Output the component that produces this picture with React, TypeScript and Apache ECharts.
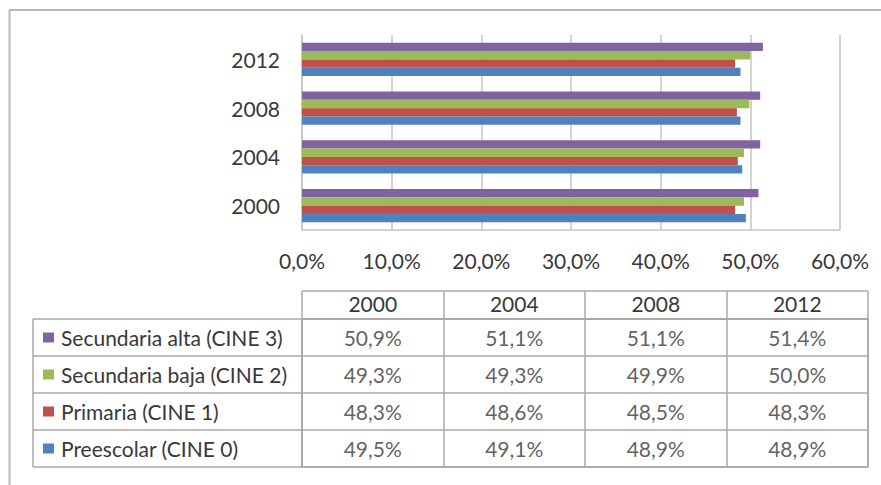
import React, { useEffect, useRef } from "react";
import * as echarts from "echarts";

const years = ["2000", "2004", "2008", "2012"];
const seriesNames = [
  "Preescolar (CINE 0)",
  "Primaria (CINE 1)",
  "Secundaria baja (CINE 2)",
  "Secundaria alta (CINE 3)",
];
const preescolar = [49.5, 49.1, 48.9, 48.9];
const primaria = [48.3, 48.6, 48.5, 48.3];
const secundariaBaja = [49.3, 49.3, 49.9, 50.0];
const secundariaAlta = [50.9, 51.1, 51.1, 51.4];
const seriesValues = [preescolar, primaria, secundariaBaja, secundariaAlta];
const colors = ["#4F81BD", "#C0504D", "#9BBB59", "#8064A2"];

const FONT = "Lato";
const FS = 21;
const TEXT = "#383838";
const GRID_C = "#c4c4c4";
const TABLE_C = "#a8a8a8";

const fmt = (v: number) => v.toFixed(1).replace(".", ",") + "%";

export default function App() {
  const ref = useRef<HTMLDivElement>(null);
  useEffect(() => {
    if (!ref.current) return;
    const chart = echarts.init(ref.current, undefined, { renderer: "svg" });

    const rich: any = {
      t: { fontFamily: FONT, fontSize: FS, color: TEXT },
      g: { width: 7 },
    };
    colors.forEach((c, i) => {
      rich["sq" + i] = { width: 11, height: 10, backgroundColor: c };
    });

    const tableData: any[] = [];
    seriesValues.forEach((vals, s) => {
      vals.forEach((v, i) => tableData.push([i, s, v]));
    });

    // ECharts stacks horizontal bar series top-down, so declare them in reverse
    const barOrder = [3, 2, 1, 0];

    chart.setOption({
      animation: false,
      backgroundColor: "#ffffff",
      textStyle: { fontFamily: FONT, color: TEXT },
      grid: [
        { left: 302, top: 35, width: 538, height: 195, containLabel: false },
        {
          left: 302,
          top: 319,
          width: 566,
          height: 148,
          show: true,
          borderColor: TABLE_C,
          borderWidth: 1.5,
          backgroundColor: "transparent",
        },
      ],
      xAxis: [
        {
          type: "value",
          gridIndex: 0,
          min: 0,
          max: 60,
          interval: 10,
          axisLine: { show: true, lineStyle: { color: GRID_C, width: 1.5 } },
          axisTick: { show: false },
          splitLine: { show: true, lineStyle: { color: GRID_C, width: 1.5 } },
          axisLabel: {
            formatter: (v: number) => fmt(v),
            fontFamily: FONT,
            fontSize: FS,
            color: TEXT,
            margin: 20,
          },
        },
        {
          type: "category",
          gridIndex: 1,
          position: "top",
          data: years,
          axisLine: { show: true, lineStyle: { color: TABLE_C, width: 1.5 } },
          axisTick: {
            show: true,
            length: 28,
            lineStyle: { color: TABLE_C, width: 1.5 },
          },
          splitLine: { show: true, lineStyle: { color: TABLE_C, width: 1.5 } },
          axisLabel: {
            fontFamily: FONT,
            fontSize: FS,
            color: TEXT,
            margin: 5,
          },
        },
      ],
      yAxis: [
        {
          type: "category",
          gridIndex: 0,
          data: years,
          axisLine: { show: true, lineStyle: { color: GRID_C, width: 1.5 } },
          axisTick: { show: false },
          axisLabel: {
            fontFamily: FONT,
            fontSize: FS,
            color: TEXT,
            margin: 22,
          },
        },
        {
          type: "category",
          gridIndex: 1,
          data: seriesNames,
          axisLine: { show: true, lineStyle: { color: TABLE_C, width: 1.5 } },
          axisTick: {
            show: true,
            length: 269,
            lineStyle: { color: TABLE_C, width: 1.5 },
          },
          splitLine: { show: true, lineStyle: { color: TABLE_C, width: 1.5 } },
          axisLabel: {
            align: "left",
            margin: 259,
            formatter: (v: string, i: number) => `{sq${i}|}{g|}{t|${v}}`,
            rich,
          },
        },
      ],
      series: [
        ...barOrder.map((s) => ({
          type: "bar",
          name: seriesNames[s],
          xAxisIndex: 0,
          yAxisIndex: 0,
          data: seriesValues[s],
          barGap: "0%",
          barCategoryGap: "32%",
          itemStyle: { color: colors[s] },
          silent: true,
        })),
        {
          type: "scatter",
          xAxisIndex: 1,
          yAxisIndex: 1,
          data: tableData,
          symbolSize: 1,
          itemStyle: { color: "transparent" },
          silent: true,
          label: {
            show: true,
            position: "inside",
            formatter: (p: any) => fmt(p.value[2]),
            fontFamily: FONT,
            fontSize: FS,
            color: TEXT,
          },
        },
      ],
      graphic: [
        {
          type: "line",
          shape: { x1: 302, y1: 291, x2: 868, y2: 291 },
          style: { stroke: TABLE_C, lineWidth: 1.5 },
          silent: true,
        },
        {
          type: "line",
          shape: { x1: 33, y1: 319, x2: 33, y2: 467 },
          style: { stroke: TABLE_C, lineWidth: 1.5 },
          silent: true,
        },
        {
          type: "line",
          shape: { x1: 9.5, y1: 10, x2: 9.5, y2: 485 },
          style: { stroke: "#b8b8b8", lineWidth: 2 },
          silent: true,
        },
        {
          type: "line",
          shape: { x1: 9, y1: 10, x2: 881, y2: 10 },
          style: { stroke: "#b8b8b8", lineWidth: 2 },
          silent: true,
        },
      ],
    });
    return () => chart.dispose();
  }, []);

  return (
    <div
      ref={ref}
      style={{ position: "fixed", left: 0, top: 0, width: 881, height: 485 }}
    />
  );
}
